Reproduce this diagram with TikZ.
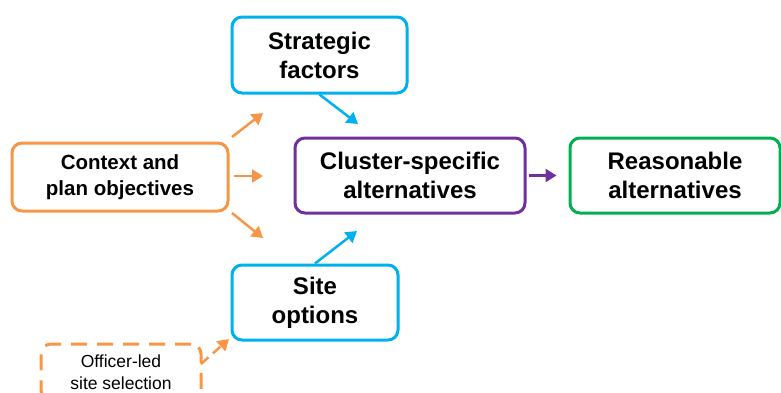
\documentclass[tikz,border=0pt]{standalone}
\usepackage{fontspec}
\setmainfont{Liberation Sans}
\usetikzlibrary{arrows.meta}
\definecolor{ctxorange}{RGB}{247,150,70}
\definecolor{stratblue}{RGB}{0,176,240}
\definecolor{clustpurple}{RGB}{112,48,160}
\definecolor{reasgreen}{RGB}{0,176,80}

\begin{document}
\begin{tikzpicture}[x=1pt, y=-1pt,
  box/.style={draw, line width=3pt, rounded corners=10pt, align=center, inner sep=0pt},
  big/.style={font=\bfseries\fontsize{24}{29}\selectfont},
  flow/.style={line width=2.5pt, -{Triangle[length=11pt,width=13pt]}}]
\useasboundingbox (0,0) rectangle (781,392);
\clip (0,0) rectangle (781,392);
% boxes
\node[box, big, draw=stratblue, minimum width=175pt, minimum height=76pt] (strat) at (319.5,55) {Strategic\\factors};
\node[box, draw=ctxorange, minimum width=216pt, minimum height=68pt, font=\bfseries\fontsize{20.5}{26}\selectfont] (context) at (120,177) {Context and\\plan objectives};
\node[box, big, draw=clustpurple, minimum width=230pt, minimum height=75pt] (cluster) at (410,175.5) {Cluster-specific\\alternatives};
\node[box, big, draw=reasgreen, minimum width=210pt, minimum height=75pt] (reason) at (675,175.5) {Reasonable\\alternatives};
\node[box, big, draw=stratblue, minimum width=166pt, minimum height=75pt] (site) at (315,302.5) {Site\\options};
\node[box, draw=ctxorange, dash pattern=on 16pt off 10pt, minimum width=160pt, minimum height=56pt, font=\fontsize{17.5}{22}\selectfont] (officer) at (121,372) {Officer-led\\site selection};
% free ends
\coordinate (c1s) at (232,137); \coordinate (c1e) at (263,113);
\coordinate (c2s) at (234,176); \coordinate (c2e) at (263,176);
\coordinate (c3s) at (232,213); \coordinate (c3e) at (263,238);
\coordinate (s1e) at (358,124); \coordinate (s2e) at (357,231);
\coordinate (o1s) at (201,364); \coordinate (o1e) at (229,339);
% arrows
\draw[flow, ctxorange] (c1s) -- (c1e); \draw[flow, ctxorange] (c2s) -- (c2e); \draw[flow, ctxorange] (c3s) -- (c3e);
\draw[flow, stratblue] (strat.south) -- (s1e);
\draw[flow, stratblue] (site.north) -- (s2e);
\draw[flow, clustpurple, shorten <=2pt, shorten >=12pt] (cluster.east) -- (reason.west);
\draw[flow, ctxorange, dash pattern=on 10pt off 6pt] (o1s) -- (o1e);
\end{tikzpicture}
\end{document}
